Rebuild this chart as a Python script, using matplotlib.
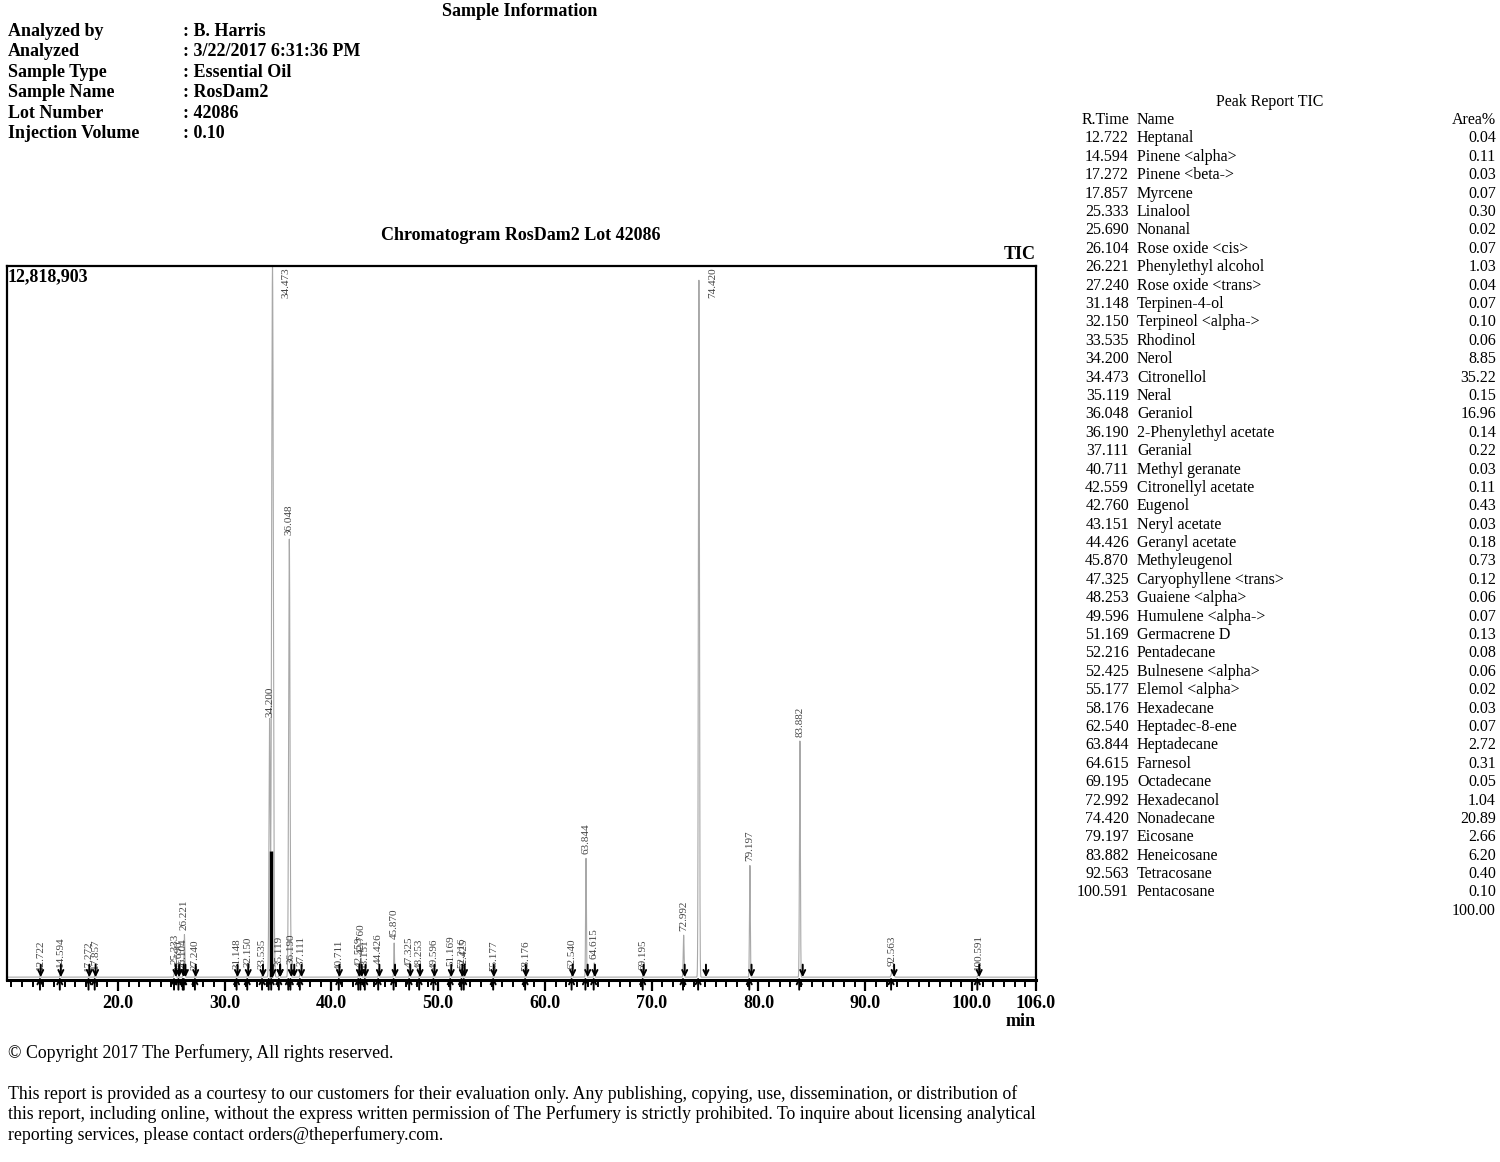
import numpy as np
import matplotlib
matplotlib.use("Agg")
import matplotlib.pyplot as plt

# ---------------- data ----------------
sample_keys = ["Analyzed by", "Analyzed", "Sample Type", "Sample Name", "Lot Number", "Injection Volume"]
sample_vals = [": B. Harris", ": 3/22/2017 6:31:36 PM", ": Essential Oil", ": RosDam2", ": 42086", ": 0.10"]

rt = [12.722, 14.594, 17.272, 17.857, 25.333, 25.690, 26.104, 26.221, 27.240, 31.148,
      32.150, 33.535, 34.200, 34.473, 35.119, 36.048, 36.190, 37.111, 40.711, 42.559,
      42.760, 43.151, 44.426, 45.870, 47.325, 48.253, 49.596, 51.169, 52.216, 52.425,
      55.177, 58.176, 62.540, 63.844, 64.615, 69.195, 72.992, 74.420, 79.197, 83.882,
      92.563, 100.591]
names = ["Heptanal", "Pinene <alpha>", "Pinene <beta->", "Myrcene", "Linalool", "Nonanal",
         "Rose oxide <cis>", "Phenylethyl alcohol", "Rose oxide <trans>", "Terpinen-4-ol",
         "Terpineol <alpha->", "Rhodinol", "Nerol", "Citronellol", "Neral", "Geraniol",
         "2-Phenylethyl acetate", "Geranial", "Methyl geranate", "Citronellyl acetate",
         "Eugenol", "Neryl acetate", "Geranyl acetate", "Methyleugenol",
         "Caryophyllene <trans>", "Guaiene <alpha>", "Humulene <alpha->", "Germacrene D",
         "Pentadecane", "Bulnesene <alpha>", "Elemol <alpha>", "Hexadecane", "Heptadec-8-ene",
         "Heptadecane", "Farnesol", "Octadecane", "Hexadecanol", "Nonadecane", "Eicosane",
         "Heneicosane", "Tetracosane", "Pentacosane"]
area_pct = [0.04, 0.11, 0.03, 0.07, 0.30, 0.02, 0.07, 1.03, 0.04, 0.07,
            0.10, 0.06, 8.85, 35.22, 0.15, 16.96, 0.14, 0.22, 0.03, 0.11,
            0.43, 0.03, 0.18, 0.73, 0.12, 0.06, 0.07, 0.13, 0.08, 0.06,
            0.02, 0.03, 0.07, 2.72, 0.31, 0.05, 1.04, 20.89, 2.66, 6.20,
            0.40, 0.10]
area_total = "100.00"
# peak heights (counts)
heights = [51000, 103000, 38000, 77000, 154000, 38000, 77000, 769000, 51000, 77000,
           103000, 64000, 4615000, 12818903, 128000, 7896000, 154000, 128000, 51000, 103000,
           346000, 51000, 154000, 615000, 103000, 64000, 64000, 128000, 90000, 77000,
           38000, 38000, 64000, 2141000, 256000, 51000, 756000, 12562000, 2013000, 4256000,
           128000, 51000]
y_max = 12818903
x_range = (9.6, 106.0)
major_ticks = [20.0, 30.0, 40.0, 50.0, 60.0, 70.0, 80.0, 90.0, 100.0, 106.0]

# ---------------- figure ----------------
W, H = 1500, 1162
fig = plt.figure(figsize=(W / 100, H / 100), dpi=100)
plt.rcParams["font.family"] = ["Liberation Serif", "DejaVu Serif"]

def P(x, y):
    return x / W, 1 - y / H

# sample information block
fig.text(*P(520, 11), "Sample Information", ha="center", va="center", fontsize=13, fontweight="bold")
for i, (k, v) in enumerate(zip(sample_keys, sample_vals)):
    y = 31.5 + i * 20.4
    fig.text(*P(8, y), k, ha="left", va="center", fontsize=13, fontweight="bold")
    fig.text(*P(183, y), v, ha="left", va="center", fontsize=13, fontweight="bold")

# chromatogram
ax = fig.add_axes([7 / W, 1 - 980 / H, (1036 - 7) / W, (980 - 266) / H])
x = np.arange(x_range[0], x_range[1], 0.002)
rt_a = np.array(rt)
h_a = np.array(heights, dtype=float)
sig = np.clip(0.0023 * np.array(area_pct) / (h_a / y_max), 0.02, 0.12)
trace = np.zeros_like(x)
for r, hh, s in zip(rt_a, h_a, sig):
    trace += hh * np.exp(-0.5 * ((x - r) / s) ** 2)
ax.plot(x, trace, color="#a8a8a8", lw=0.8, zorder=2)

# drop lines between unresolved peaks
for i in range(len(rt) - 1):
    m = (x > rt[i]) & (x < rt[i + 1])
    if m.sum() == 0:
        continue
    j = np.argmin(trace[m])
    v = trace[m][j]
    if v > 0.1 * y_max:
        ax.vlines(x[m][j], 0, v, color="black", lw=2.5, zorder=3)

ax.set_xlim(*x_range)
ax.set_ylim(-0.004 * y_max, y_max)

# peak labels
for r, hh in zip(rt, heights):
    lab = f"{r:.3f}"
    if hh > 0.9 * y_max:
        ax.annotate(lab, xy=(r, y_max), xytext=(10, -1), textcoords="offset points",
                    rotation=90, ha="center", va="top", fontsize=8, color="#444444", zorder=4)
    else:
        ax.annotate(lab, xy=(r, hh), xytext=(0, 3), textcoords="offset points",
                    rotation=90, ha="center", va="bottom", fontsize=8, color="#444444", zorder=4)

# integration start / end markers
for r, hh, s in zip(rt, heights, sig):
    t0 = r - 1.5 * s
    t1 = r + 1.5 * s + 0.6 * hh / y_max
    ax.annotate("", xy=(t0, 0), xytext=(0, -9), textcoords="offset points",
                arrowprops=dict(arrowstyle="->", lw=1.4, color="black", shrinkA=0, shrinkB=0,
                                mutation_scale=9), annotation_clip=False, zorder=5)
    ax.annotate("", xy=(t1, 0), xytext=(0, 9), textcoords="offset points",
                arrowprops=dict(arrowstyle="->", lw=1.4, color="black", shrinkA=0, shrinkB=0,
                                mutation_scale=9), annotation_clip=False, zorder=5)

for sp in ax.spines.values():
    sp.set_linewidth(1.6)
ax.spines["bottom"].set_linewidth(2.2)
ax.set_yticks([])
ax.set_xticks(major_ticks)
ax.set_xticklabels([f"{t:.1f}" for t in major_ticks], fontsize=13, fontweight="bold")
ax.set_xticks(np.arange(10, 106, 1.0), minor=True)
ax.tick_params(axis="x", which="major", direction="out", length=8, width=1.6, pad=3)
ax.tick_params(axis="x", which="minor", direction="out", length=5, width=1.4)
fig.text(*P(8, 277), "12,818,903", ha="left", va="center", fontsize=13, fontweight="bold")
fig.text(*P(1020, 255), "TIC", ha="center", va="center", fontsize=13, fontweight="bold")
fig.text(*P(521, 235), "Chromatogram RosDam2 Lot 42086", ha="center", va="center",
         fontsize=13, fontweight="bold")
fig.text(*P(1021, 1021), "min", ha="center", va="center", fontsize=13, fontweight="bold")

# peak report table
fig.text(*P(1270, 102), "Peak Report TIC", ha="center", va="center", fontsize=11.5)
fig.text(*P(1129, 120), "R.Time", ha="right", va="center", fontsize=11.5)
fig.text(*P(1137, 120), "Name", ha="left", va="center", fontsize=11.5)
fig.text(*P(1496, 120), "Area%", ha="right", va="center", fontsize=11.5)
for i, (r, n, a) in enumerate(zip(rt, names, area_pct)):
    y = 138.5 + i * 18.39
    fig.text(*P(1129, y), f"{r:.3f}", ha="right", va="center", fontsize=11.5)
    fig.text(*P(1137, y), n, ha="left", va="center", fontsize=11.5)
    fig.text(*P(1496, y), f"{a:.2f}", ha="right", va="center", fontsize=11.5)
fig.text(*P(1496, 138.5 + len(rt) * 18.39), area_total, ha="right", va="center", fontsize=11.5)

# footer
fig.text(*P(8, 1053), "\u00a9 Copyright 2017 The Perfumery, All rights reserved.",
         ha="left", va="center", fontsize=12.8)
foot = ["This report is provided as a courtesy to our customers for their evaluation only. Any publishing, copying, use, dissemination, or distribution of",
        "this report, including online, without the express written permission of The Perfumery is strictly prohibited. To inquire about licensing analytical",
        "reporting services, please contact orders@theperfumery.com."]
for i, line in enumerate(foot):
    fig.text(*P(8, 1094 + i * 20.5), line, ha="left", va="center", fontsize=12.8)

fig.savefig("out.png", dpi=100)
